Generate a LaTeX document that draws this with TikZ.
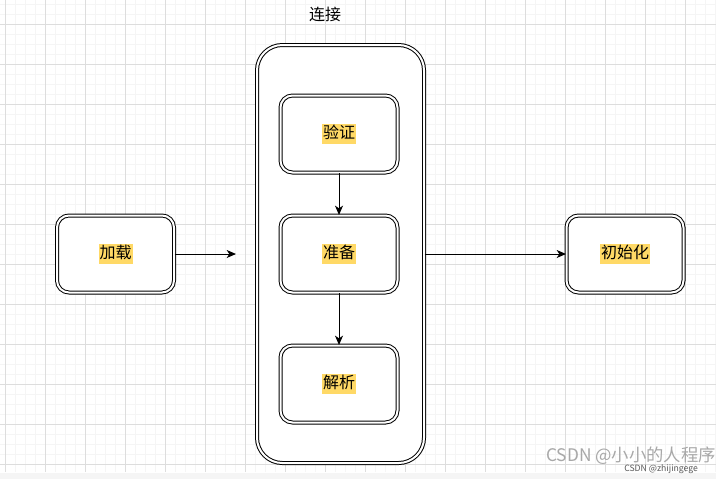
\documentclass[tikz,border=0pt]{standalone}
\usepackage{fontspec}
\setmainfont{Noto Sans CJK SC}
\usetikzlibrary{arrows.meta}
\definecolor{hl}{HTML}{FFD966}
\definecolor{gridminor}{HTML}{F5F5F5}
\definecolor{gridmajor}{HTML}{DDDDDD}
\definecolor{wmark}{HTML}{A8A8A8}
\newcommand{\hlt}[1]{{\setlength{\fboxsep}{0.75pt}\colorbox{hl}{\rule[-3.6pt]{0pt}{12.3pt}#1}}}
\tikzset{
    stepbox/.style={draw, double, line width=0.75pt, double distance=1.5pt,
        rounded corners=9pt, minimum width=87.75pt, minimum height=57.75pt,
        fill=white, inner sep=0pt, font=\fontsize{12}{12}\selectfont},
    groupbox/.style={draw, double, line width=0.75pt, double distance=1.5pt,
        rounded corners=19pt, minimum width=125.25pt, minimum height=313.5pt,
        fill=white, inner sep=0pt},
    flow/.style={-{Stealth[length=7pt,width=6pt,inset=2pt]}, line width=0.75pt}
}
\begin{document}
\begin{tikzpicture}[x=0.75pt, y=-0.75pt]
        \useasboundingbox (0,0) rectangle (716,479);
        \fill[white] (0,0) rectangle (716,479);

        % Grid
        \foreach \x in {5,15,...,715}
            \draw[gridminor, line width=0.75pt] (\x,0) -- (\x,472);
        \foreach \y in {4.5,14.5,...,472}
            \draw[gridminor, line width=0.75pt] (0,\y) -- (716,\y);
        \foreach \x in {5,45,...,715}
            \draw[gridmajor, line width=0.75pt] (\x,0) -- (\x,472);
        \foreach \y in {24.5,64.5,...,472}
            \draw[gridmajor, line width=0.75pt] (0,\y) -- (716,\y);
        \fill[gridminor] (0,472.5) rectangle (716,479);

        % Connection stage
        \node[groupbox] (lj) at (340.5,254) {};
        \node[font=\fontsize{12}{12}\selectfont] (ljtext) at (325,14) {连接};
        \node[stepbox] (yz) at (339,134) {\hlt{验证}};
        \node[stepbox] (zb) at (339,254) {\hlt{准备}};
        \node[stepbox] (jx) at (339,384) {\hlt{解析}};

        % Load and init
        \node[stepbox] (jz) at (115.5,254) {\hlt{加载}};
        \node[stepbox] (csh) at (625,254) {\hlt{初始化}};
        \coordinate (ljin) at (236,254);

        % Arrows
        \draw[flow] (jz) -- (ljin);
        \draw[flow] (yz) -- (zb);
        \draw[flow] (zb) -- (jx);
        \draw[flow] (lj.east |- zb) -- (csh);

        % Watermark
        \node[wmark, anchor=base west, inner sep=0pt, font=\fontsize{13}{13}\selectfont] (wm) at (546,461) {CSDN @小小的人程序};
        \node[black!65, anchor=base west, inner sep=0pt, font=\fontsize{6.5}{6.5}\selectfont] (wmsmall) at (624,471) {CSDN @zhijingege};
    \end{tikzpicture}
\end{document}
